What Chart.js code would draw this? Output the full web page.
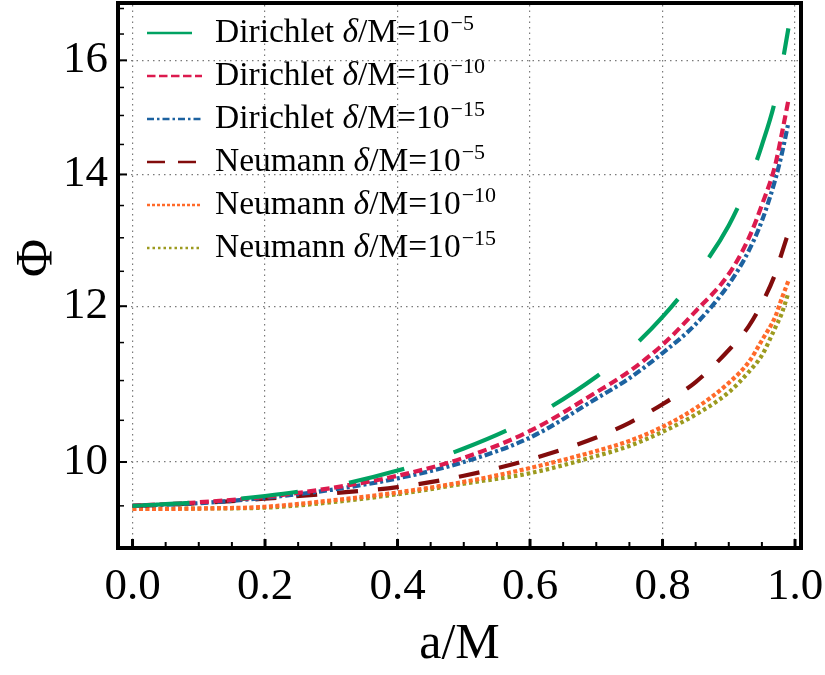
<!DOCTYPE html>
<html>
<head>
<meta charset="utf-8">
<script src="https://cdn.jsdelivr.net/npm/chart.js@4.4.1/dist/chart.umd.min.js"></script>
<style>
  html, body { margin: 0; padding: 0; background: #fff; }
  canvas { display: block; }
</style>
</head>
<body>
<canvas id="phiChart" width="825" height="675"></canvas>
<script>
const aValues = [0, 0.1, 0.2, 0.3, 0.4, 0.5, 0.6, 0.7, 0.75, 0.8, 0.85, 0.9, 0.93, 0.95, 0.97, 0.98, 0.99];

// Phi for each boundary condition / cutoff
const dirichlet5  = [9.50, 9.54, 9.61, 9.72, 9.90, 10.16, 10.52, 11.05, 11.40, 11.85, 12.43, 13.19, 13.87, 14.49, 15.27, 15.89, 16.61];
const dirichlet10 = [9.50, 9.54, 9.60, 9.70, 9.84, 10.05, 10.37, 10.85, 11.12, 11.47, 11.93, 12.46, 12.99, 13.51, 14.15, 14.68, 15.27];
const dirichlet15 = [9.50, 9.53, 9.59, 9.68, 9.81, 10.00, 10.29, 10.77, 11.03, 11.36, 11.75, 12.31, 12.80, 13.26, 13.91, 14.34, 14.87];
const neumann5    = [9.50, 9.53, 9.58, 9.64, 9.71, 9.84, 10.03, 10.29, 10.47, 10.70, 10.98, 11.40, 11.72, 12.04, 12.46, 12.77, 13.08];
const neumann10   = [9.465, 9.47, 9.49, 9.56, 9.65, 9.77, 9.93, 10.13, 10.25, 10.42, 10.65, 10.97, 11.24, 11.53, 11.85, 12.11, 12.36];
const neumann15   = [9.465, 9.47, 9.48, 9.54, 9.63, 9.75, 9.87, 10.07, 10.19, 10.36, 10.57, 10.85, 11.11, 11.33, 11.70, 11.90, 12.19];

const seriesNames = ['Dirichlet', 'Dirichlet', 'Dirichlet', 'Neumann', 'Neumann', 'Neumann'];
const exponents = ['\u22125', '\u221210', '\u221215', '\u22125', '\u221210', '\u221215'];

const xTicks = [0, 0.2, 0.4, 0.6, 0.8, 1.0];
const xMinorTicks = [0.05, 0.1, 0.15, 0.25, 0.3, 0.35, 0.45, 0.5, 0.55, 0.65, 0.7, 0.75, 0.85, 0.9, 0.95];
const yTicks = [10, 12, 14, 16];
const yMinorTicks = [9.5, 10.5, 11, 11.5, 12.5, 13, 13.5, 14.5, 15, 15.5, 16.5, 17];

const serif = '"Liberation Serif", "Times New Roman", serif';

function toPoints(values) {
    return values.map((v, i) => ({ x: aValues[i], y: v }));
}

const styles = [
    { color: '#00a262', dash: [57, 52], legendDash: [], legendEnd: 192 },
    { color: '#dc1a4e', dash: [9, 4.5], legendDash: [8.5, 3.5], legendEnd: 202 },
    { color: '#1c62a0', dash: [8, 3, 3, 3], legendDash: [7, 3, 2.5, 3], legendEnd: 202 },
    { color: '#820c0c', dash: [21, 20], legendDash: [18, 13], legendEnd: 197 },
    { color: '#ff6a2a', dash: [4, 2.5], legendDash: [3, 2], legendEnd: 202 },
    { color: '#9c9a1e', dash: [3.5, 3], legendDash: [2.5, 3], legendEnd: 202 }
];

const allSeries = [dirichlet5, dirichlet10, dirichlet15, neumann5, neumann10, neumann15];

const datasets = allSeries.map((vals, i) => ({
    label: seriesNames[i] + ' \u03b4/M=10^' + exponents[i],
    data: toPoints(vals),
    borderColor: styles[i].color,
    backgroundColor: styles[i].color,
    borderWidth: 4.2,
    borderDash: styles[i].dash,
    borderCapStyle: 'butt',
    pointRadius: 0,
    fill: false,
    cubicInterpolationMode: 'monotone'
}));

// frame, inward ticks, Phi label and the hand made legend (superscripts)
const framePlugin = {
    id: 'framePlugin',
    afterDraw(chart) {
        const ctx = chart.ctx;
        const area = chart.chartArea;
        const xs = chart.scales.x;
        const ys = chart.scales.y;

        ctx.save();
        ctx.strokeStyle = '#000';
        ctx.fillStyle = '#000';

        xTicks.forEach(v => {
            const px = xs.getPixelForValue(v);
            ctx.fillRect(px - 1.5, area.bottom - 7, 3, 7);
        });
        xMinorTicks.forEach(v => {
            const px = xs.getPixelForValue(v);
            ctx.fillRect(px - 1, area.bottom - 4, 2, 4);
        });
        yTicks.forEach(v => {
            const py = ys.getPixelForValue(v);
            ctx.fillRect(area.left, py - 1, 7, 2);
        });
        yMinorTicks.forEach(v => {
            const py = ys.getPixelForValue(v);
            ctx.fillRect(area.left, py - 0.75, 4, 1.5);
        });

        ctx.lineWidth = 4;
        ctx.strokeRect(area.left - 2, area.top - 2, area.right - area.left + 4, area.bottom - area.top + 4);

        // y axis label, rotated like the reference
        ctx.save();
        ctx.translate(38, 258);
        ctx.rotate(-Math.PI / 2);
        ctx.font = '52px ' + serif;
        ctx.textAlign = 'center';
        ctx.textBaseline = 'middle';
        ctx.fillText('\u03a6', 0, 0);
        ctx.restore();

        // legend
        chart.data.datasets.forEach((ds, i) => {
            const base = 42 + 43 * i;
            ctx.save();
            ctx.strokeStyle = ds.borderColor;
            ctx.lineWidth = 2.6;
            ctx.setLineDash(styles[i].legendDash);
            ctx.beginPath();
            ctx.moveTo(147, base - 9);
            ctx.lineTo(styles[i].legendEnd, base - 9);
            ctx.stroke();
            ctx.restore();

            ctx.fillStyle = '#000';
            ctx.textBaseline = 'alphabetic';
            ctx.textAlign = 'left';
            let x = 215;
            ctx.font = '33.5px ' + serif;
            const first = seriesNames[i] + ' ';
            ctx.fillText(first, x, base);
            x += ctx.measureText(first).width;
            ctx.font = 'italic 33.5px ' + serif;
            ctx.fillText('\u03b4', x, base);
            x += ctx.measureText('\u03b4').width;
            ctx.font = '33.5px ' + serif;
            ctx.fillText('/M=10', x, base);
            x += ctx.measureText('/M=10').width + 1;
            ctx.font = '22px ' + serif;
            ctx.fillText(exponents[i], x, base - 12);
        });
        ctx.restore();
    }
};

const ctx = document.getElementById('phiChart').getContext('2d');

const myChart = new Chart(ctx, {
    type: 'line',
    data: { datasets: datasets },
    options: {
        responsive: false,
        animation: false,
        devicePixelRatio: 1,
        layout: { padding: { left: 0, top: 5, right: 26, bottom: 0 } },
        plugins: {
            legend: { display: false },
            tooltip: { enabled: false }
        },
        scales: {
            x: {
                type: 'linear',
                min: -0.0189,
                max: 1.006,
                afterBuildTicks: s => { s.ticks = xTicks.map(v => ({ value: v })); },
                afterFit: s => { s.height = 129; s.paddingLeft = 0; s.paddingRight = 0; },
                grid: { color: '#7a7a7a', lineWidth: 1.2, drawTicks: false },
                border: { display: false, dash: [1.5, 4] },
                ticks: {
                    padding: 14,
                    color: '#000',
                    autoSkip: false,
                    maxRotation: 0,
                    font: { family: serif, size: 45 },
                    callback: v => v.toFixed(1)
                },
                title: {
                    display: true,
                    text: 'a/M',
                    color: '#000',
                    font: { family: serif, size: 50 },
                    padding: { top: 8, bottom: 0 }
                }
            },
            y: {
                type: 'logarithmic',
                min: 9.064,
                max: 17.07,
                afterBuildTicks: s => { s.ticks = yTicks.map(v => ({ value: v })); },
                afterFit: s => { s.width = 120; s.paddingTop = 0; s.paddingBottom = 0; },
                grid: { color: '#7a7a7a', lineWidth: 1.2, drawTicks: false },
                border: { display: false, dash: [1.5, 4] },
                ticks: {
                    padding: 12,
                    color: '#000',
                    autoSkip: false,
                    font: { family: serif, size: 45 },
                    callback: v => String(v)
                }
            }
        }
    },
    plugins: [framePlugin]
});
</script>
</body>
</html>
